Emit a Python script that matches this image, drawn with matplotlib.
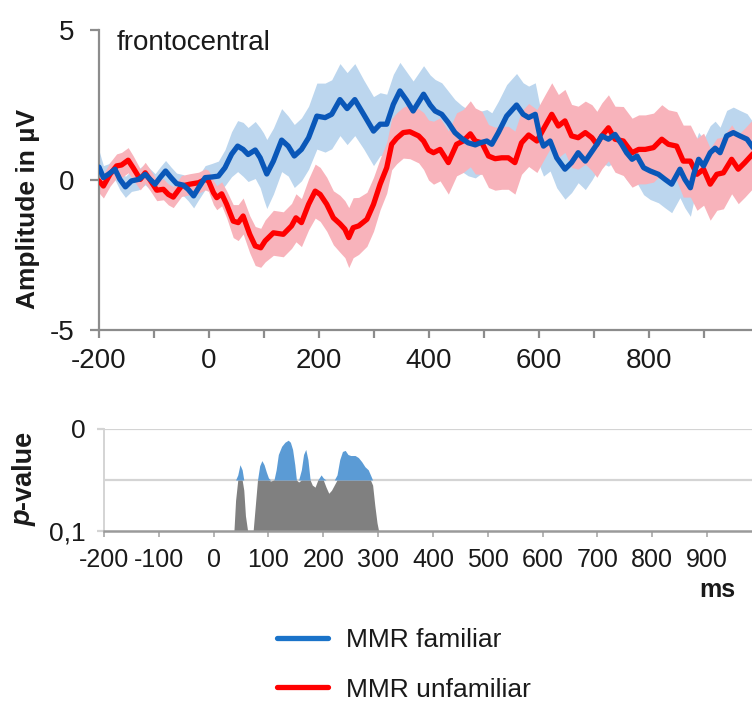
import matplotlib
matplotlib.use("Agg")
import matplotlib.pyplot as plt
import numpy as np

plt.rcParams['font.family'] = ['Liberation Sans', 'DejaVu Sans']
plt.rcParams['axes.unicode_minus'] = False

# ---------------- data ----------------
fam_t = [-200, -192, -183, -171, -162, -152, -141, -128, -116, -107, -98, -89, -79, -69, -59,
         -47, -38, -28, -19, -7, 5, 17, 29, 41, 52, 62, 71, 84, 93, 99, 105, 117, 132, 144,
         155, 168, 181, 196, 211, 223, 238, 251, 265, 281, 299, 311, 323, 335, 347, 359, 371,
         390, 402, 411, 423, 435, 447, 459, 471, 484, 493, 505, 514, 526, 541, 559, 571, 581,
         593, 602, 608, 620, 632, 647, 659, 671, 684, 696, 705, 714, 726, 738, 750, 759, 769,
         778, 790, 802, 817, 829, 841, 856, 865, 875, 881, 890, 899, 911, 920, 929, 941, 953,
         965, 978, 990]
fam_v = [0.43, 0.08, 0.19, 0.36, 0.02, -0.23, -0.03, 0.02, 0.19, 0.02, -0.14, 0.08, 0.30, 0.08,
         -0.12, -0.17, -0.31, -0.53, -0.26, 0.08, 0.10, 0.13, 0.41, 0.86, 1.13, 1.02, 0.85, 1.00,
         0.74, 0.47, 0.20, 0.63, 1.33, 1.13, 0.80, 1.02, 1.41, 2.13, 2.08, 2.19, 2.68, 2.38,
         2.68, 2.19, 1.63, 1.86, 1.86, 2.52, 2.97, 2.66, 2.30, 2.86, 2.50, 2.30, 2.19, 1.91,
         1.58, 1.39, 1.24, 1.17, 1.24, 1.30, 1.19, 1.58, 2.13, 2.50, 2.19, 2.08, 2.19, 1.41,
         1.13, 1.30, 0.74, 0.36, 0.58, 0.91, 0.63, 0.95, 1.19, 1.47, 1.36, 1.52, 1.19, 0.91,
         0.69, 0.80, 0.41, 0.30, 0.19, 0.02, -0.14, 0.36, 0.02, -0.26, 0.19, 0.69, 0.47, 0.91,
         1.06, 0.91, 1.47, 1.58, 1.47, 1.36, 1.05]
fam_err = [0.55, 0.40, 0.35, 0.35, 0.35, 0.35, 0.35, 0.35, 0.35, 0.35, 0.35, 0.35, 0.35, 0.35,
           0.35, 0.35, 0.38, 0.40, 0.40, 0.40, 0.45, 0.50, 0.60, 0.75, 0.85, 0.90, 0.90, 0.95,
           1.00, 1.10, 1.15, 1.10, 1.05, 1.00, 1.05, 1.05, 1.05, 1.10, 1.15, 1.15, 1.20, 1.20,
           1.20, 1.15, 1.15, 1.05, 1.00, 1.00, 0.95, 0.95, 1.00, 0.95, 1.00, 1.05, 1.05, 1.05,
           1.10, 1.10, 1.10, 1.10, 1.05, 1.05, 1.05, 1.05, 1.05, 1.05, 1.05, 1.05, 1.05, 1.00,
           1.00, 1.00, 1.00, 1.00, 1.00, 1.00, 0.95, 0.95, 0.90, 0.90, 0.90, 0.90, 0.90, 0.90,
           0.90, 0.90, 0.90, 0.95, 0.95, 0.95, 0.95, 0.95, 0.95, 0.95, 0.90, 0.90, 0.90, 0.90,
           0.90, 0.85, 0.85, 0.85, 0.85, 0.85, 0.85]

unf_t = [-200, -192, -180, -168, -159, -147, -138, -125, -116, -110, -95, -83, -74, -65, -50,
         -35, -19, -7, -1, 8, 14, 23, 32, 44, 53, 62, 74, 84, 94, 102, 117, 135, 150, 158, 168,
         181, 193, 202, 214, 226, 238, 247, 254, 262, 272, 287, 299, 311, 323, 332, 341, 353,
         365, 381, 390, 399, 408, 420, 435, 450, 462, 475, 484, 496, 508, 520, 532, 544, 556,
         568, 581, 596, 611, 623, 635, 647, 659, 671, 684, 696, 705, 714, 726, 738, 753, 769,
         781, 793, 808, 823, 835, 850, 862, 875, 887, 899, 911, 923, 935, 950, 962, 974, 990]
unf_v = [-0.03, -0.20, 0.19, 0.47, 0.50, 0.66, 0.41, 0.02, 0.24, 0.08, -0.34, -0.31, -0.48,
         -0.57, -0.20, -0.14, -0.09, 0.02, -0.03, -0.42, -0.59, -0.46, -0.81, -1.37, -1.42,
         -1.20, -1.81, -2.20, -2.26, -2.03, -1.76, -1.81, -1.53, -1.26, -1.42, -0.81, -0.37,
         -0.48, -0.81, -1.26, -1.46, -1.64, -1.92, -1.59, -1.53, -1.31, -0.81, -0.14, 0.41,
         1.19, 1.39, 1.58, 1.61, 1.47, 1.30, 1.00, 0.91, 1.02, 0.58, 1.19, 1.30, 1.54, 1.30,
         1.24, 0.80, 0.71, 0.74, 0.74, 0.58, 1.24, 1.50, 1.30, 1.80, 2.19, 1.80, 1.97, 1.47,
         1.41, 1.58, 1.41, 1.19, 1.47, 1.74, 1.36, 1.30, 0.91, 1.02, 1.02, 1.08, 1.36, 1.19,
         1.13, 0.63, 0.63, 0.19, 0.36, -0.14, 0.19, 0.24, 0.69, 0.36, 0.58, 0.90]
unf_err = [0.40, 0.40, 0.40, 0.40, 0.42, 0.42, 0.40, 0.35, 0.35, 0.35, 0.35, 0.35, 0.35, 0.35,
           0.35, 0.35, 0.35, 0.35, 0.35, 0.40, 0.40, 0.40, 0.45, 0.55, 0.60, 0.60, 0.62, 0.65,
           0.65, 0.70, 0.75, 0.75, 0.75, 0.80, 0.80, 0.85, 0.90, 0.90, 0.90, 0.90, 0.95, 0.95,
           1.00, 1.00, 0.95, 0.90, 0.90, 0.85, 0.85, 0.85, 0.85, 0.85, 0.90, 0.90, 0.95, 1.00,
           1.05, 1.05, 1.05, 1.05, 1.05, 1.10, 1.10, 1.05, 1.05, 1.05, 1.05, 1.05, 1.05, 1.05,
           1.05, 1.05, 1.05, 1.05, 1.05, 1.05, 1.05, 1.05, 1.05, 1.10, 1.10, 1.10, 1.10, 1.10,
           1.15, 1.15, 1.15, 1.15, 1.15, 1.15, 1.15, 1.15, 1.20, 1.20, 1.20, 1.20, 1.20, 1.20,
           1.20, 1.15, 1.15, 1.15, 1.15]

p_t = [30, 37, 40, 44, 48, 52, 55, 58, 62, 72, 76, 80, 84, 88, 92, 96, 100, 104, 110, 114,
       118, 124, 130, 136, 140, 144, 148, 151, 155, 160, 164, 168, 172, 176, 180, 185, 190,
       196, 200, 205, 210, 215, 220, 225, 230, 235, 240, 245, 250, 258, 264, 270, 276, 282,
       286, 290, 294, 298, 301]
p_v = [0.1, 0.1, 0.07, 0.045, 0.035, 0.04, 0.06, 0.085, 0.1, 0.1, 0.075, 0.05, 0.036, 0.031,
       0.035, 0.042, 0.048, 0.051, 0.05, 0.04, 0.025, 0.017, 0.013, 0.011, 0.013, 0.02, 0.035,
       0.05, 0.052, 0.04, 0.025, 0.02, 0.03, 0.05, 0.055, 0.057, 0.05, 0.045, 0.048, 0.057,
       0.063, 0.06, 0.055, 0.045, 0.03, 0.022, 0.021, 0.025, 0.026, 0.026, 0.028, 0.032,
       0.037, 0.04, 0.045, 0.055, 0.075, 0.092, 0.1]

alpha_level = 0.05
top_xticks = list(range(-200, 1000, 100))
top_xlabels = ['-200', '', '0', '', '200', '', '400', '', '600', '', '800', '']
top_yticks = [-5, 0, 5]
bot_xticks = list(range(-200, 1000, 100))
bot_xlabels = [str(v) for v in bot_xticks]
bot_yticks = [0, 0.1]
bot_ylabels = ['0', '0,1']
series_labels = ['MMR familiar', 'MMR unfamiliar']

# ---------------- styling ----------------
W, H = 752, 702
fig = plt.figure(figsize=(W / 100, H / 100), dpi=100)
TXT = '#1a1a1a'
SPINE = '#8c8c8c'

ax1 = fig.add_axes([99 / W, 1 - 330 / H, 653 / W, 300 / H])
ax2 = fig.add_axes([104 / W, 1 - 531 / H, 648 / W, 102 / H])

fam_t_a, fam_v_a, fam_e_a = map(np.asarray, (fam_t, fam_v, fam_err))
unf_t_a, unf_v_a, unf_e_a = map(np.asarray, (unf_t, unf_v, unf_err))

ax1.fill_between(fam_t_a, fam_v_a - fam_e_a, fam_v_a + fam_e_a, color='#bcd6ee', lw=0, zorder=1)
ax1.fill_between(unf_t_a, unf_v_a - unf_e_a, unf_v_a + unf_e_a, color='#f8b3bb', lw=0, zorder=2)
l_unf, = ax1.plot(unf_t_a, unf_v_a, color='#ff0000', lw=3.8, solid_joinstyle='round',
                  solid_capstyle='round', zorder=3)
l_fam, = ax1.plot(fam_t_a, fam_v_a, color='#0a57b8', lw=3.8, solid_joinstyle='round',
                  solid_capstyle='round', zorder=4)

ax1.set_xlim(-200, 987)
ax1.set_ylim(-5, 5)
for s in ['top', 'right']:
    ax1.spines[s].set_visible(False)
for s in ['left', 'bottom']:
    ax1.spines[s].set_color(SPINE)
    ax1.spines[s].set_linewidth(1.6)
ax1.set_xticks(top_xticks)
ax1.set_xticklabels(top_xlabels)
ax1.set_yticks(top_yticks)
ax1.tick_params(axis='x', direction='out', length=6, width=1.6, color=SPINE,
                labelsize=20, labelcolor=TXT, pad=7)
ax1.tick_params(axis='y', direction='out', length=6.5, width=1.6, color=SPINE,
                labelsize=20, labelcolor=TXT, pad=11)
ax1.patch.set_alpha(0)

# p-value panel
p_t_a, p_v_a = np.asarray(p_t), np.asarray(p_v)
ax2.fill_between(p_t_a, 0.1, np.maximum(p_v_a, alpha_level), color='#808080', lw=0, zorder=2)
ax2.fill_between(p_t_a, alpha_level, np.minimum(p_v_a, alpha_level), color='#5b9bd5', lw=0,
                 zorder=2)
ax2.set_xlim(-200, 982)
ax2.set_ylim(0.1, 0)
ax2.set_yticks(bot_yticks)
ax2.set_yticklabels(bot_ylabels)
ax2.set_xticks(bot_xticks)
ax2.set_xticklabels(bot_xlabels)
for yv in [0, alpha_level]:
    ax2.axhline(yv, color='#d4d4d4', lw=1.6, zorder=1)
for s in ['top', 'right']:
    ax2.spines[s].set_visible(False)
ax2.spines['left'].set_color('#d4d4d4')
ax2.spines['left'].set_linewidth(1.4)
ax2.spines['bottom'].set_color('#9a9a9a')
ax2.spines['bottom'].set_linewidth(1.8)
ax2.spines['bottom'].set_zorder(3)
ax2.tick_params(axis='x', direction='out', length=4, width=1.2, color='#a8a8a8',
                labelsize=18, labelcolor=TXT, pad=8)
ax2.tick_params(axis='y', direction='out', length=5, width=1.6, color='#d4d4d4',
                labelsize=19, labelcolor=TXT, pad=8)
ax2.patch.set_alpha(0)

# texts
fig.text(117 / W, 1 - 50 / H, 'frontocentral', fontsize=20, color=TXT, ha='left', va='baseline')
fig.text(28 / W, 1 - 209 / H, 'Amplitude in µV', fontsize=19, fontweight='bold', color=TXT,
         rotation=90, ha='center', va='center')
fig.text(31 / W, 1 - 509 / H, '-value', fontsize=19.5, fontweight='bold', color=TXT,
         rotation=90, rotation_mode='anchor', ha='left', va='baseline')
fig.text(31 / W, 1 - 509 / H, 'p', fontsize=19.5, fontweight='bold', fontstyle='italic',
         color=TXT, rotation=90, rotation_mode='anchor', ha='right', va='baseline')
fig.text(735 / W, 1 - 597 / H, 'ms', fontsize=18, fontweight='bold', color=TXT,
         ha='right', va='baseline')

leg = fig.legend([l_fam, l_unf], series_labels, loc='center left',
                 bbox_to_anchor=(277 / W, 1 - 665 / H), frameon=False, fontsize=19,
                 handlelength=1.93, handletextpad=0.68, labelspacing=0.95,
                 borderpad=0, borderaxespad=0)
for t in leg.get_texts():
    t.set_color(TXT)
leg.get_lines()[0].set_color('#1a73c9')

fig.savefig('out.png', dpi=100)
